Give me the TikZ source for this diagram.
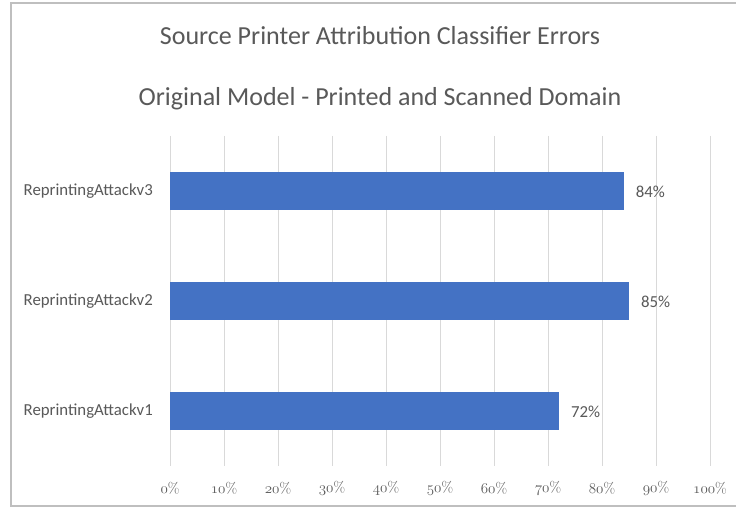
\documentclass[tikz,border=0pt]{standalone}
\usepackage{fix-cm}
\usepackage{fontspec}
\setmainfont{Carlito}
\newfontfamily\lmfont{Latin Modern Roman}
% old-style figures taken from the math italic font
\newcommand\osnum[1]{{\usefont{OML}{cmm}{m}{it}#1}}
\definecolor{barblue}{HTML}{4472C4}
\definecolor{labelgray}{HTML}{595959}
\definecolor{gridgray}{HTML}{D9D9D9}
\definecolor{framegray}{HTML}{BFBFBF}
\tikzset{
  gridline/.style={draw=gridgray, line width=1pt},
  barfill/.style={fill=barblue, draw=none},
  catlabel/.style={anchor=east, text=labelgray, inner sep=0pt, font=\fontsize{16.8}{20}\selectfont},
  vallabel/.style={anchor=west, text=labelgray, inner sep=0pt, font=\fontsize{16.8}{20}\selectfont},
  ticklabel/.style={text=labelgray, inner sep=0pt, font=\fontsize{15}{18}\selectfont},
  titletext/.style={text=labelgray, inner sep=0pt, font=\fontsize{26}{31}\selectfont},
}
\begin{document}
\begin{tikzpicture}[x=1pt,y=-1pt]
\useasboundingbox (0,0) rectangle (736,508);
\clip (0,0) rectangle (736,508);
\fill[white] (0,0) rectangle (736,508);
% chart frame
\draw[framegray, line width=2pt] (760,3) -- (11,3) -- (11,506) -- (760,506);

% titles
\node[titletext] (title1) at (380,36) {Source Printer Attribution Classifier Errors};
\node[titletext] (title2) at (380,99) {Original Model - Printed and Scanned Domain};

% vertical gridlines and percentage ticks
\foreach \i in {0,...,10} {
  \draw[gridline] ({170+54*\i},136) -- ({170+54*\i},466);
  \node[ticklabel] (tick\i) at ({170+54*\i},488) {\osnum{\number\numexpr\i*10\relax}{\lmfont\%}};
}

% bars with category and value labels
\foreach \n/\v/\yc in {3/84/191, 2/85/301, 1/72/411} {
  \fill[barfill] (170,{\yc-19}) rectangle ({170+5.4*\v},{\yc+19});
  \node[catlabel] (cat\n) at (153,\yc) {ReprintingAttackv\n};
  \node[vallabel] (val\n) at ({170+5.4*\v+12},{\yc+1}) {\v\%};
}
\end{tikzpicture}
\end{document}
